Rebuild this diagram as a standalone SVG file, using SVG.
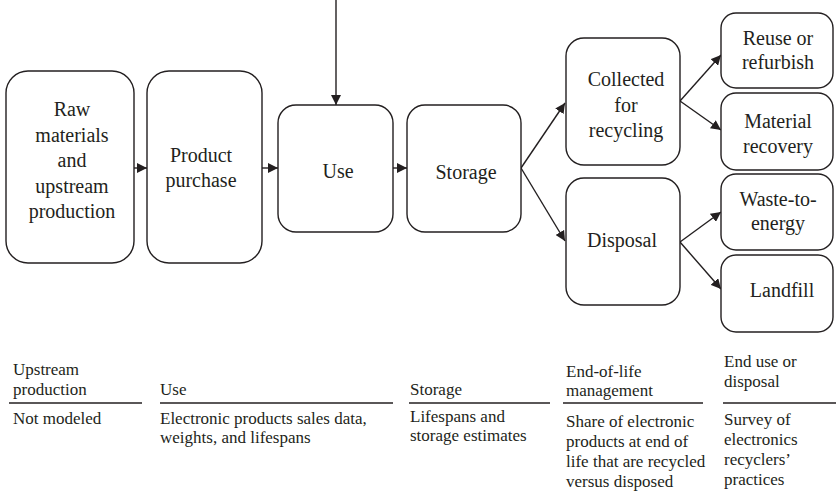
<svg xmlns="http://www.w3.org/2000/svg" width="836" height="495" viewBox="0 0 836 495">
<defs>
<marker id="ah" viewBox="0 0 10 10" refX="10" refY="5" markerWidth="10" markerHeight="10" markerUnits="userSpaceOnUse" orient="auto">
<path d="M0,0 L10,5 L0,10 Z" fill="#231f20"/>
</marker>
<style>
.box{fill:#fff;stroke:#231f20;stroke-width:1.4}
.nt{font-size:20px;fill:#231f20;text-anchor:middle}
.bt{font-size:17px;fill:#231f20}
.ln{stroke:#231f20;stroke-width:1.4;fill:none}
.rule{stroke:#231f20;stroke-width:1.6}
</style>
</defs>
<rect width="836" height="495" fill="#fff"/>
<g id="connectors">
<line class="ln" x1="336" y1="0" x2="336" y2="105" marker-end="url(#ah)"/>
<line class="ln" x1="134" y1="168" x2="147" y2="168" marker-end="url(#ah)"/>
<line class="ln" x1="262" y1="168" x2="278" y2="168" marker-end="url(#ah)"/>
<line class="ln" x1="393" y1="168" x2="407" y2="168" marker-end="url(#ah)"/>
<line class="ln" x1="521" y1="168" x2="565" y2="103" marker-end="url(#ah)"/>
<line class="ln" x1="521" y1="168" x2="565" y2="241" marker-end="url(#ah)"/>
<line class="ln" x1="680" y1="101" x2="721" y2="55" marker-end="url(#ah)"/>
<line class="ln" x1="680" y1="101" x2="721" y2="130" marker-end="url(#ah)"/>
<line class="ln" x1="680" y1="242" x2="721" y2="212" marker-end="url(#ah)"/>
<line class="ln" x1="680" y1="242" x2="721" y2="289" marker-end="url(#ah)"/>
</g>
<g font-family="'Liberation Serif', 'Times New Roman', 'DejaVu Serif', serif">
<g id="raw">
<rect class="box" x="6" y="71" width="128" height="192" rx="22"/>
<text class="nt" x="72" y="116">Raw</text>
<text class="nt" x="72" y="142">materials</text>
<text class="nt" x="72" y="167">and</text>
<text class="nt" x="72" y="193">upstream</text>
<text class="nt" x="72" y="218">production</text>
</g>
<g id="purchase">
<rect class="box" x="147" y="71" width="115" height="192" rx="22"/>
<text class="nt" x="201" y="162">Product</text>
<text class="nt" x="201" y="187">purchase</text>
</g>
<g id="use">
<rect class="box" x="278" y="105" width="115" height="127" rx="18"/>
<text class="nt" x="338" y="178">Use</text>
</g>
<g id="storage">
<rect class="box" x="407" y="105" width="114" height="127" rx="18"/>
<text class="nt" x="466" y="179">Storage</text>
</g>
<g id="collected">
<rect class="box" x="566" y="38" width="114" height="127" rx="18"/>
<text class="nt" x="626" y="86">Collected</text>
<text class="nt" x="626" y="112">for</text>
<text class="nt" x="626" y="137">recycling</text>
</g>
<g id="disposal">
<rect class="box" x="566" y="178" width="114" height="127" rx="18"/>
<text class="nt" x="622" y="247">Disposal</text>
</g>
<g id="reuse">
<rect class="box" x="721" y="13" width="112" height="75" rx="15"/>
<text class="nt" x="778" y="45">Reuse or</text>
<text class="nt" x="778" y="69">refurbish</text>
</g>
<g id="material">
<rect class="box" x="721" y="93" width="112" height="77" rx="15"/>
<text class="nt" x="778" y="128">Material</text>
<text class="nt" x="778" y="153">recovery</text>
</g>
<g id="waste">
<rect class="box" x="721" y="174" width="112" height="76" rx="15"/>
<text class="nt" x="778" y="206">Waste-to-</text>
<text class="nt" x="778" y="230">energy</text>
</g>
<g id="landfill">
<rect class="box" x="721" y="255" width="112" height="77" rx="15"/>
<text class="nt" x="782" y="297">Landfill</text>
</g>
<g id="table">
<line class="rule" x1="9" y1="403" x2="142" y2="403"/>
<line class="rule" x1="160" y1="403" x2="393" y2="403"/>
<line class="rule" x1="409" y1="403" x2="550" y2="403"/>
<line class="rule" x1="563" y1="403" x2="703" y2="403"/>
<line class="rule" x1="723" y1="403" x2="836" y2="403"/>
<text class="bt" x="13" y="375">Upstream</text>
<text class="bt" x="13" y="395">production</text>
<text class="bt" x="13" y="424">Not modeled</text>
<text class="bt" x="160" y="395">Use</text>
<text class="bt" x="160" y="424">Electronic products sales data,</text>
<text class="bt" x="160" y="443">weights, and lifespans</text>
<text class="bt" x="410" y="395">Storage</text>
<text class="bt" x="410" y="422">Lifespans and</text>
<text class="bt" x="410" y="441">storage estimates</text>
<text class="bt" x="566" y="377">End-of-life</text>
<text class="bt" x="566" y="396">management</text>
<text class="bt" x="566" y="427">Share of electronic</text>
<text class="bt" x="566" y="447">products at end of</text>
<text class="bt" x="566" y="467">life that are recycled</text>
<text class="bt" x="566" y="487">versus disposed</text>
<text class="bt" x="724" y="367">End use or</text>
<text class="bt" x="724" y="387">disposal</text>
<text class="bt" x="724" y="425">Survey of</text>
<text class="bt" x="724" y="445">electronics</text>
<text class="bt" x="724" y="465">recyclers’</text>
<text class="bt" x="724" y="485">practices</text>
</g>
</g>
</svg>
